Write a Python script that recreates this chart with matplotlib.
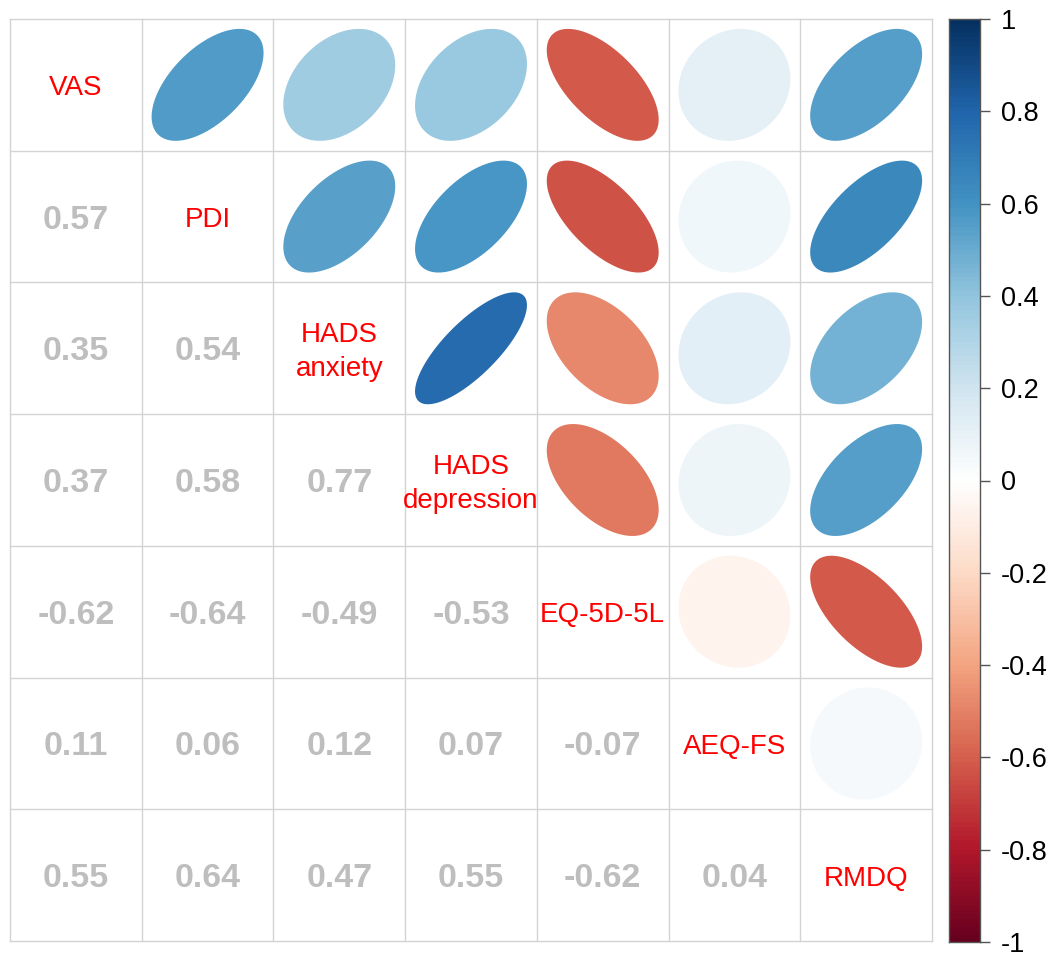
import numpy as np
import matplotlib
matplotlib.use("Agg")
import matplotlib.pyplot as plt
from matplotlib.colors import LinearSegmentedColormap
from matplotlib.patches import Polygon

plt.rcParams["font.family"] = ["Liberation Sans", "DejaVu Sans"]
plt.rcParams["axes.unicode_minus"] = False

# -----------------------------
# Data
# -----------------------------
LABELS = ["VAS", "PDI", "HADS\nanxiety", "HADS\ndepression", "EQ-5D-5L", "AEQ-FS", "RMDQ"]
# lower triangle, row by row
LOWER = [
    [],
    [0.57],
    [0.35, 0.54],
    [0.37, 0.58, 0.77],
    [-0.62, -0.64, -0.49, -0.53],
    [0.11, 0.06, 0.12, 0.07, -0.07],
    [0.55, 0.64, 0.47, 0.55, -0.62, 0.04],
]
CBAR_TICKS = [-1, -0.8, -0.6, -0.4, -0.2, 0, 0.2, 0.4, 0.6, 0.8, 1]

n = len(LABELS)
corr = np.eye(n)
for i, row in enumerate(LOWER):
    for j, v in enumerate(row):
        corr[i, j] = v
        corr[j, i] = v

# corrplot RdBu palette
cmap = LinearSegmentedColormap.from_list("rdbu", [
    "#67001F", "#B2182B", "#D6604D", "#F4A582", "#FDDBC7", "#FFFFFF",
    "#D1E5F0", "#92C5DE", "#4393C3", "#2166AC", "#053061"], N=200)


def ellipse(rho, cx, cy, npts=99):
    k = np.linspace(0, 2 * np.pi, npts)
    x = np.cos(k + np.arccos(rho) / 2) / 2
    y = np.cos(k - np.arccos(rho) / 2) / 2
    return np.column_stack([cx + 0.85 * x, cy + 0.85 * y])


W, H = 1054, 956
fig = plt.figure(figsize=(W / 100, H / 100), dpi=100)

# -----------------------------
# Matrix
# -----------------------------
ax = fig.add_axes([10 / W, (H - 941) / H, 922 / W, 922 / H])
ax.set_xlim(0, n)
ax.set_ylim(0, n)
ax.axis("off")

for k in range(n + 1):
    ax.plot([k, k], [0, n], color="#D3D3D3", lw=1, zorder=1, clip_on=False)
    ax.plot([0, n], [k, k], color="#D3D3D3", lw=1, zorder=1, clip_on=False)

dy = 0.027  # text sits a little below the cell centre
for i in range(n):
    for j in range(n):
        cx = j + 0.5
        cy = n - i - 0.5
        r = corr[i, j]
        if i == j:
            ax.text(cx, cy - dy, LABELS[i], color="red", fontsize=20,
                    ha="center", va="center", linespacing=1.4, zorder=3)
        elif j > i:
            ax.add_patch(Polygon(ellipse(r, cx, cy), closed=True,
                                 facecolor=cmap((r + 1) / 2), edgecolor="none", zorder=2))
        else:
            ax.text(cx, cy - dy, f"{r:.2f}", color="#BEBEBE", fontsize=24.5,
                    fontweight="bold", ha="center", va="center", zorder=3)

# -----------------------------
# Colour bar
# -----------------------------
cax = fig.add_axes([949 / W, (H - 942) / H, 31 / W, 923 / H])
grad = np.linspace(-1, 1, 200).reshape(-1, 1)
cax.imshow(grad, cmap=cmap, aspect="auto", origin="lower", extent=[0, 1, -1, 1])
cax.set_xlim(0, 1)
cax.set_ylim(-1, 1)
cax.set_xticks([])
cax.yaxis.tick_right()
cax.set_yticks(CBAR_TICKS)
cax.set_yticklabels([f"{t:g}" for t in CBAR_TICKS])
cax.tick_params(axis="y", length=7, width=1, color="#555555", labelsize=19.5, pad=8)
for s in cax.spines.values():
    s.set_color("#555555")
    s.set_linewidth(1)

fig.savefig("out.png", dpi=100)
